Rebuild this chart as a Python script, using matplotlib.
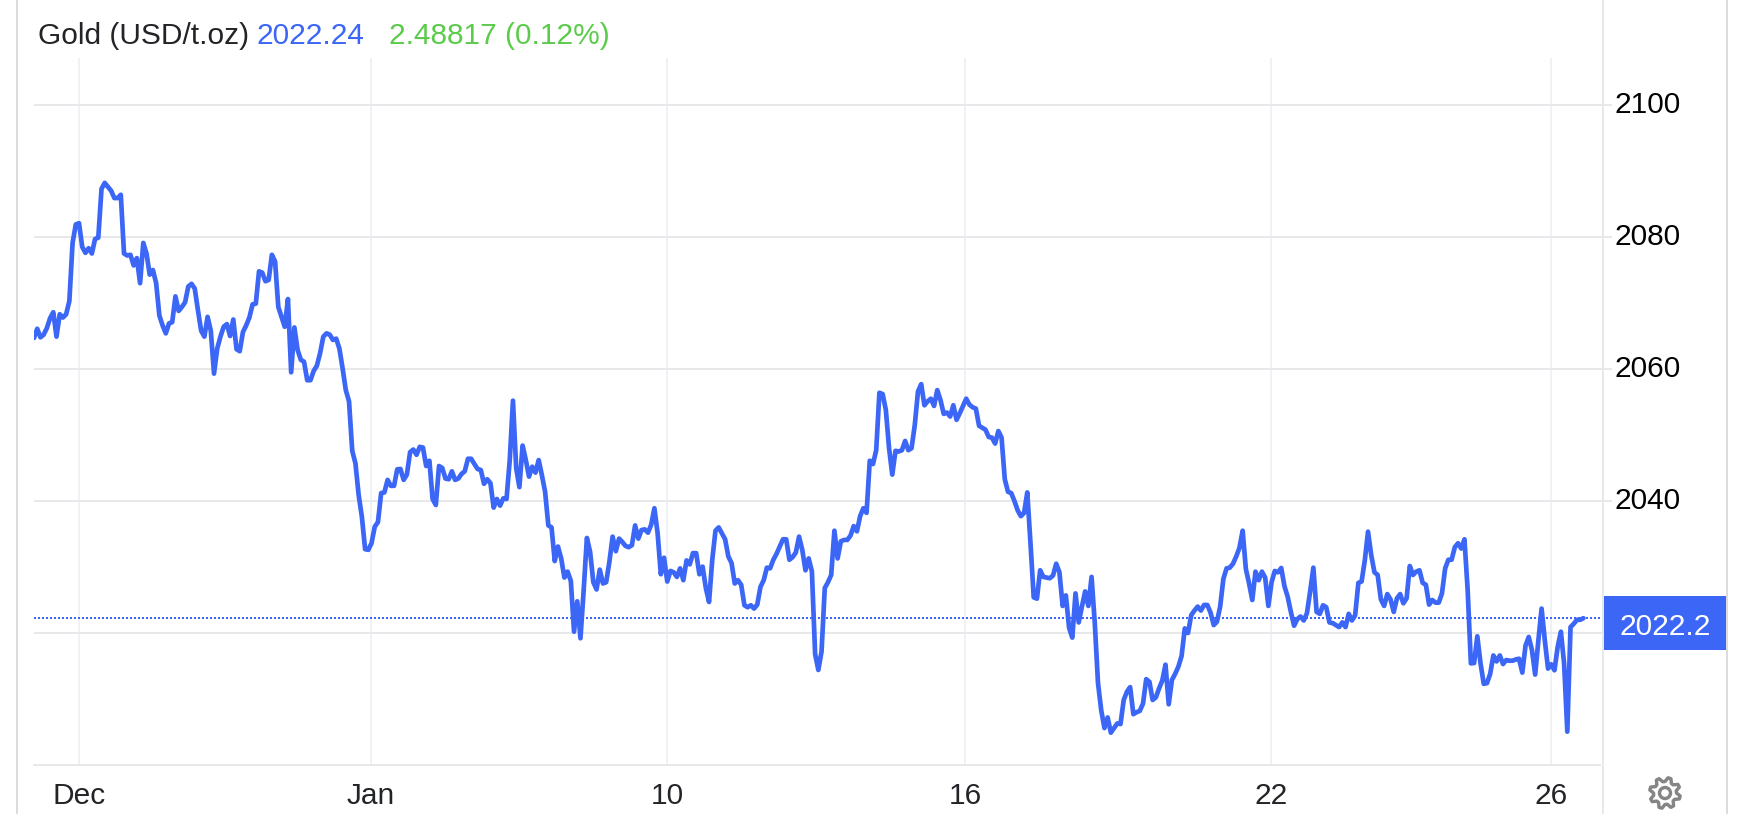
import numpy as np
import matplotlib
matplotlib.use("Agg")
import matplotlib.pyplot as plt
from matplotlib.patches import Rectangle, Circle, Polygon
from matplotlib.transforms import ScaledTranslation

# Gold price, one sample per chart step
prices_a = [2064.7,2066.1,2064.8,2065.2,2066.2,2067.7,2068.6,2064.9,2068.3,2067.8,2068.3,2070.3,2079.1,2081.9,2082.1,2078.5,2077.6,2078.3,2077.5,2079.7,
2079.9,2087.3,2088.2,2087.6,2087.0,2085.9,2085.9,2086.4,2077.5,2077.2,2077.3,2075.7,2076.8,2073.0,2079.1,2077.5,2074.3,2075.0,2073.0,2068.1,
2066.6,2065.4,2066.9,2067.1,2071.0,2068.8,2069.4,2070.1,2072.5,2072.9,2072.2,2068.9,2065.8,2064.9,2067.9,2065.8,2059.3,2063.1,2064.9,2066.4,
2066.8,2065.0,2067.5,2063.0,2062.7,2065.6,2066.6,2067.8,2069.8,2069.9,2074.8,2074.6,2073.3,2073.5,2077.3,2076.3,2069.4,2067.9,2066.4,2070.6,
2059.5,2066.3,2062.9,2061.4,2061.1,2058.3,2058.3,2059.7,2060.5,2062.4,2064.9,2065.4,2065.2,2064.4,2064.6,2063.1,2060.1,2056.8,2055.1]
prices_b = [2047.6,2045.7,2040.9,2037.6,2032.7,2032.6,2033.6,2036.1,2036.8,2041.2,2041.3,2043.2,2042.3,2042.3,2044.8,
2044.85,2043.2,2044.0,2047.4,2047.8,2047.0,2048.2,2048.1,2045.3,2046.1,2040.3,2039.4,2045.3,2045.0,2043.4,2043.3,2044.5,2043.2,2043.4,2044.1,
2044.5,2046.4,2046.4,2045.6,2044.85,2044.7,2042.6,2043.3,2042.7,2039.0,2040.3,2039.3,2040.4,2040.3,2046.2,2055.2,2045.0,2042.1,2048.4,2046.2,
2043.7,2045.2,2044.3,2046.2,2043.9,2041.4,2036.3,2036.0,2030.9,2033.1,2031.3,2028.4,2029.3,2027.9,2020.2,2024.8,2019.2,2026.5,2034.4,2032.3,
2027.7,2026.6,2029.6,2027.5,2027.7,2030.8,2034.6,2032.4,2034.3,2033.8,2033.2,2033.0,2033.3,2036.3,2034.3,2035.6,2035.7,2035.2,2036.4,2038.9,
2035.1,2028.9,2031.4,2027.8,2029.4,2029.2,2028.5,2029.8,2028.0,2031.0,2030.4,2032.1,2032.1,2028.9,2030.05,2026.8,2024.7,2031.1,2035.5,2036.0,
2035.1,2034.2,2031.6,2030.6,2027.5,2028.0,2027.3,2024.2,2023.9,2024.2,2023.7,2024.3,2027.0,2028.0,2029.9,2029.8,2031.1,2032.0,2033.1,2034.2,
2034.2,2031.1,2031.5,2032.2,2034.6,2032.6,2029.5,2031.3,2029.3,2016.8,2014.4,2017.2,2026.8,2027.7,2028.8,2035.5,2031.3]
prices_c = [2033.9,2034.1,2034.1,2034.75,2036.2,2035.4,2037.7,2038.9,2038.2,2046.1,2045.6,2047.7,2056.4,2056.2,2053.8,2048.0,2044.0,2047.6,2047.5,2047.7,
2049.1,2047.7,2048.0,2051.5,2056.6,2057.7,2054.5,2055.1,2055.5,2054.4,2056.8,2055.3,2053.2,2053.4,2052.8,2054.5,2052.3,2053.3,2054.4,2055.5,
2054.6,2054.2,2054.0,2051.4,2051.1,2050.8,2049.7,2049.6,2048.7,2050.6,2049.6,2043.3,2041.4,2041.2,2040.0,2038.6,2037.7,2038.2,2041.3,2033.6,
2025.4,2025.2,2029.5,2028.5,2028.4,2028.3,2028.7,2030.5,2029.2,2024.1,2025.7,2020.8,2019.3,2026.0,2021.6,2024.0,2026.3,2024.1,2028.5,2021.5,
2012.4,2008.3,2005.6,2007.2,2004.9,2005.6,2006.3,2006.2,2009.85,2011.1,2011.8,2007.7,2008.0,2008.2,2009.3,2013.0,2012.6,2009.85,2010.25,2011.6,
2012.8,2015.2,2009.2,2012.9,2013.8,2014.9,2016.5,2020.7,2020.0,2022.7,2023.4,2024.0,2023.4,2024.25,2024.25,2023.1,2021.2,2021.7,2024.0,2028.2,
2029.8,2029.9,2030.5,2031.6,2032.9,2035.5,2029.7,2027.5,2025.0,2029.3,2028.0,2029.3,2028.4,2024.1,2027.7,2029.4,2029.2,2029.85,2027.1,2025.5,
2023.2,2021.1,2022.1]
prices_d = [2022.5,2021.9,2023.0,2026.3,2029.9,2023.2,2022.9,2024.2,2023.9,2021.6,2021.5,2021.2,2020.9,2021.6,2020.9,2022.9,2021.9,2022.7,2027.6,2027.8,
2031.0,2035.35,2031.8,2029.2,2028.8,2025.1,2024.1,2025.9,2025.1,2023.2,2025.25,2025.9,2024.5,2025.25,2030.15,2028.8,2029.3,2029.5,2027.6,2027.3,
2024.3,2025.0,2024.6,2024.6,2026.0,2029.8,2031.1,2031.1,2033.0,2033.6,2032.8,2034.2,2026.5,2015.4,2015.45,2019.5,2015.4,2012.3,2012.4,2013.8,
2016.6,2015.7,2016.6,2015.3,2015.9,2015.8,2015.8,2016.0,2016.1,2014.0,2018.1,2019.4,2017.4,2013.7,2018.9,2023.7,2018.9,2014.6,2015.25,2014.35,
2017.9,2020.2,2015.4,2005.05,2020.9,2021.4,2022.0,2022.0,2022.24]

x_tick_pos = [14.0, 104.8, 196.9, 289.6, 384.8, 471.9]
x_tick_labels = ["Dec", "Jan", "10", "16", "22", "26"]
y_ticks = [2020, 2040, 2060, 2080, 2100]
y_tick_labels = ["", "2040", "2060", "2080", "2100"]
last_price = 2022.3

W, H = 1748, 814
BLUE = "#3b66f6"
GREEN = "#5ccb4c"
GRID = "#e7e8ea"
VGRID = "#eef1f5"
BORDER = "#dcdcdc"
INK = "#222428"
px = 0.72
FS = 21.5

plt.rcParams["font.family"] = ["Liberation Sans", "DejaVu Sans"]
values = prices_a + prices_b + prices_c + prices_d

fig = plt.figure(figsize=(W / 100, H / 100), dpi=100, facecolor="white")
ax = fig.add_axes([34 / W, (H - 765) / H, 1566 / W, 707 / H])
ax.set_xlim(0, 1566 / 3.2145)
ax.set_ylim(2000, 2000 + 707 / 6.6)
for s in ["top", "left", "right"]:
    ax.spines[s].set_visible(False)
ax.spines["bottom"].set_color(GRID)
ax.spines["bottom"].set_linewidth(2 * px)
ax.yaxis.tick_right()
ax.set_yticks(y_ticks, y_tick_labels, va="center_baseline")
ax.set_xticks(x_tick_pos, x_tick_labels)
ax.tick_params(axis="y", length=12 * px, width=2 * px, color=GRID, pad=3 * px,
               labelsize=FS, labelcolor="black")
ax.tick_params(axis="x", length=0, pad=17 * px, labelsize=FS, labelcolor=INK)
lift = ScaledTranslation(0, 2.5 / 100, fig.dpi_scale_trans)
for lab in ax.get_yticklabels():
    lab.set_transform(lab.get_transform() + lift)
ax.grid(axis="y", color=GRID, lw=2 * px, zorder=1)
ax.grid(axis="x", color=VGRID, lw=2 * px, zorder=0)
ax.set_axisbelow(True)
ax.axhline(last_price, color=BLUE, lw=2 * px, ls=(0, (1, 1)), zorder=2)
ax.plot(np.arange(len(values)), values, color=BLUE, lw=4.7 * px,
        solid_joinstyle="round", solid_capstyle="round", zorder=3, clip_on=True)

ov = fig.add_axes([0, 0, 1, 1], zorder=5)
ov.set_xlim(0, W)
ov.set_ylim(H, 0)
ov.axis("off")
ov.patch.set_alpha(0)
ov.plot([17, 17], [0, H], color=BORDER, lw=2 * px)
ov.plot([1727, 1727], [0, H], color=BORDER, lw=2 * px)
ov.plot([1603, 1603], [0, 767], color=GRID, lw=2 * px)
ov.plot([1603, 1603], [769, H], color=GRID, lw=2 * px)
ov.add_patch(Rectangle((1604, 596), 122, 54, fc=BLUE, ec="none"))
ov.text(1665, 624, "2022.2", color="white", fontsize=FS, ha="center", va="center_baseline")
ov.text(38, 36, "Gold (USD/t.oz)", color=INK, fontsize=FS, ha="left", va="center")
ov.text(256, 36, "2022.24", color=BLUE, fontsize=FS, ha="left", va="center")
ov.text(389, 36, "2.48817 (0.12%)", color=GREEN, fontsize=FS, ha="left", va="center")

# gear icon
cx, cy = 1665, 793
ang = np.linspace(0, 2 * np.pi, 8 * 4, endpoint=False) + np.pi / 8 - np.pi / 16
rad = np.tile([15.5, 15.5, 11.5, 11.5], 8)
ov.add_patch(Polygon(np.c_[cx + rad * np.cos(ang), cy + rad * np.sin(ang)], closed=True,
                     fc="none", ec="#858585", lw=3.4 * px, joinstyle="round"))
ov.add_patch(Circle((cx, cy), 5.5, fc="none", ec="#858585", lw=3.4 * px))

fig.savefig("out.png", dpi=100)
